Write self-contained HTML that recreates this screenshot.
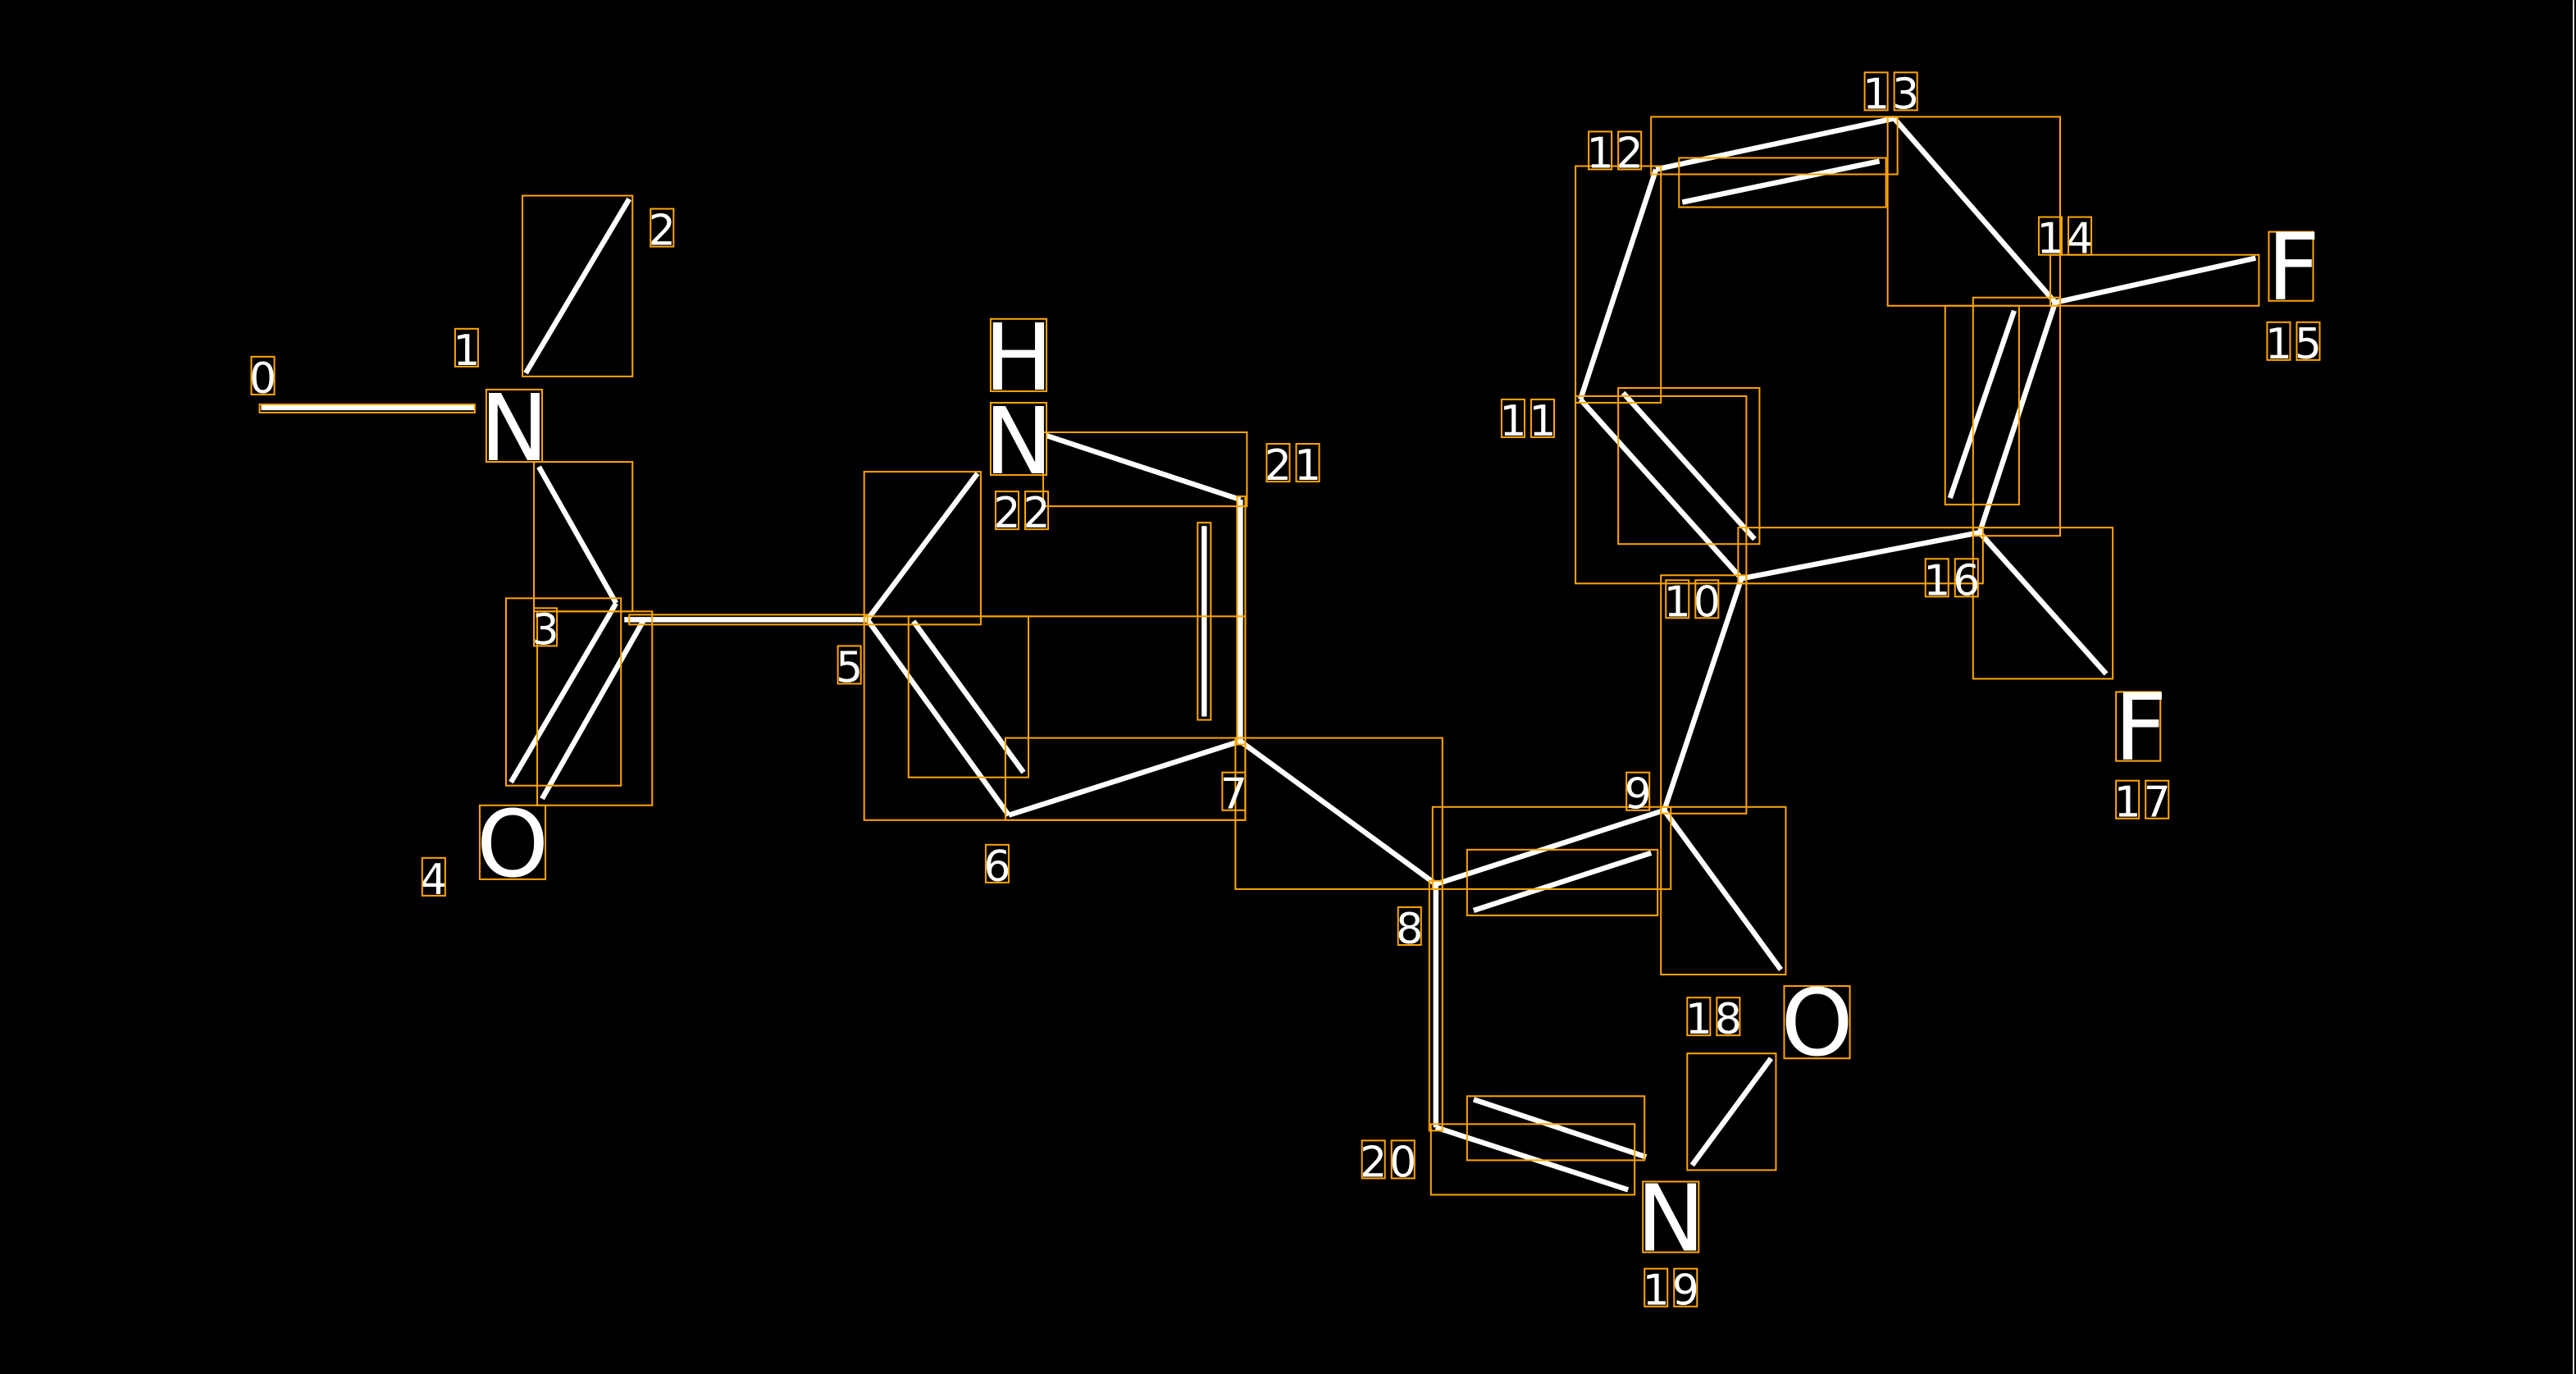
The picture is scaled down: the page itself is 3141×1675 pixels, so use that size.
<!DOCTYPE html>
<html><head><meta charset="utf-8"><style>
html,body{margin:0;padding:0;background:#000;}
svg{display:block;}
text{font-family:"DejaVu Sans","Liberation Sans",sans-serif;fill:#fff;}
</style></head><body>
<svg width="3141" height="1675" viewBox="0 0 1568 836" xmlns="http://www.w3.org/2000/svg">
<rect width="1568" height="836" fill="#000"/>
<line x1="1566.5" y1="0" x2="1566.5" y2="836" stroke="#ddd" stroke-width="1"/>
<g stroke="#fff" stroke-width="3.2" fill="none">
<line x1="159" y1="248" x2="289" y2="248"/>
<line x1="320" y1="227" x2="383" y2="121"/>
<line x1="328" y1="284" x2="375" y2="367"/>
<line x1="311" y1="476" x2="375" y2="367"/>
<line x1="330" y1="486" x2="392" y2="377"/>
<line x1="380" y1="377" x2="528" y2="377"/>
<line x1="528" y1="377" x2="595" y2="288"/>
<line x1="528" y1="377" x2="614" y2="496"/>
<line x1="556" y1="378" x2="623" y2="470"/>
<line x1="614" y1="496" x2="755" y2="451"/>
<line x1="755" y1="451" x2="755" y2="304"/>
<line x1="733" y1="320" x2="733" y2="436"/>
<line x1="755" y1="304" x2="637" y2="265"/>
<line x1="755" y1="451" x2="874" y2="538"/>
<line x1="874" y1="538" x2="1013" y2="493"/>
<line x1="897" y1="554" x2="1005" y2="519"/>
<line x1="1013" y1="493" x2="1084" y2="590"/>
<line x1="1030" y1="709" x2="1078" y2="644"/>
<line x1="991" y1="724" x2="874" y2="686"/>
<line x1="1002" y1="704" x2="897" y2="669"/>
<line x1="874" y1="538" x2="874" y2="686"/>
<line x1="1013" y1="493" x2="1060" y2="352"/>
<line x1="1060" y1="352" x2="962" y2="243"/>
<line x1="988" y1="239" x2="1068" y2="328"/>
<line x1="962" y1="243" x2="1008" y2="103"/>
<line x1="1008" y1="103" x2="1153" y2="72"/>
<line x1="1024" y1="123" x2="1144" y2="98"/>
<line x1="1153" y1="72" x2="1251" y2="184"/>
<line x1="1251" y1="184" x2="1373" y2="157"/>
<line x1="1251" y1="184" x2="1205" y2="324"/>
<line x1="1187" y1="303" x2="1226" y2="189"/>
<line x1="1205" y1="324" x2="1060" y2="352"/>
<line x1="1205" y1="324" x2="1282" y2="410"/>
</g>
<g stroke="#FFA500" stroke-width="1" fill="none">
<rect x="158" y="246" width="131" height="5"/>
<rect x="318" y="119" width="67" height="110"/>
<rect x="325" y="281" width="60" height="91"/>
<rect x="308" y="364" width="70" height="114"/>
<rect x="327" y="372" width="70" height="118"/>
<rect x="383" y="374" width="145" height="6"/>
<rect x="526" y="287" width="71" height="93"/>
<rect x="526" y="375" width="232" height="124"/>
<rect x="553" y="375" width="73" height="98"/>
<rect x="612" y="449" width="146" height="50"/>
<rect x="753" y="302" width="5" height="151"/>
<rect x="729" y="318" width="8" height="120"/>
<rect x="635" y="263" width="124" height="45"/>
<rect x="752" y="449" width="126" height="92"/>
<rect x="872" y="491" width="145" height="50"/>
<rect x="893" y="517" width="116" height="40"/>
<rect x="1011" y="491" width="76" height="102"/>
<rect x="1027" y="641" width="54" height="71"/>
<rect x="871" y="684" width="124" height="43"/>
<rect x="893" y="667" width="108" height="39"/>
<rect x="870" y="536" width="8" height="152"/>
<rect x="1011" y="350" width="52" height="145"/>
<rect x="959" y="241" width="104" height="114"/>
<rect x="985" y="236" width="86" height="95"/>
<rect x="959" y="101" width="52" height="144"/>
<rect x="1005" y="71" width="150" height="35"/>
<rect x="1022" y="96" width="126" height="30"/>
<rect x="1149" y="71" width="105" height="115"/>
<rect x="1248" y="155" width="127" height="31"/>
<rect x="1201" y="181" width="53" height="145"/>
<rect x="1184" y="186" width="45" height="121"/>
<rect x="1058" y="321" width="149" height="34"/>
<rect x="1201" y="321" width="85" height="92"/>
<rect x="296" y="237" width="34" height="44"/>
<rect x="292" y="490" width="40" height="45"/>
<rect x="603" y="194" width="34" height="44"/>
<rect x="603" y="245" width="34" height="44"/>
<rect x="1086" y="600" width="40" height="44"/>
<rect x="1000" y="719" width="34" height="43"/>
<rect x="1381" y="141" width="27" height="42"/>
<rect x="1288" y="421" width="27" height="42"/>
</g>
<g font-size="56" text-anchor="middle">
<text x="313" y="280">N</text>
<text x="312" y="533">O</text>
<text x="620" y="237">H</text>
<text x="620" y="288">N</text>
<text x="1106" y="642">O</text>
<text x="1017" y="761">N</text>
<text x="1396" y="182">F</text>
<text x="1303" y="462">F</text>
</g>
<g font-size="26" text-anchor="middle">
<text x="160" y="239">0</text>
<text x="284" y="222">1</text>
<text x="403" y="149">2</text>
<text x="332" y="392">3</text>
<text x="264" y="544">4</text>
<text x="517" y="415">5</text>
<text x="607" y="536">6</text>
<text x="751" y="492">7</text>
<text x="858" y="574">8</text>
<text x="997" y="492">9</text>
<text x="1021" y="375">1</text><text x="1039" y="375">0</text>
<text x="921" y="265">1</text><text x="939" y="265">1</text>
<text x="974" y="102">1</text><text x="992" y="102">2</text>
<text x="1142" y="66">1</text><text x="1160" y="66">3</text>
<text x="1248" y="154">1</text><text x="1266" y="154">4</text>
<text x="1387" y="218">1</text><text x="1405" y="218">5</text>
<text x="1179" y="362">1</text><text x="1197" y="362">6</text>
<text x="1295" y="497">1</text><text x="1313" y="497">7</text>
<text x="1034" y="629">1</text><text x="1052" y="629">8</text>
<text x="1008" y="794">1</text><text x="1026" y="794">9</text>
<text x="836" y="716">2</text><text x="854" y="716">0</text>
<text x="778" y="292">2</text><text x="796" y="292">1</text>
<text x="613" y="321">2</text><text x="631" y="321">2</text>
</g>
<g stroke="#FFA500" stroke-width="1" fill="none">
<rect x="153" y="217" width="14" height="23"/>
<rect x="277" y="200" width="14" height="23"/>
<rect x="396" y="127" width="14" height="23"/>
<rect x="325" y="370" width="14" height="23"/>
<rect x="257" y="522" width="14" height="23"/>
<rect x="510" y="393" width="14" height="23"/>
<rect x="600" y="514" width="14" height="23"/>
<rect x="744" y="470" width="14" height="23"/>
<rect x="851" y="552" width="14" height="23"/>
<rect x="990" y="470" width="14" height="23"/>
<rect x="1014" y="353" width="14" height="23"/><rect x="1032" y="353" width="14" height="23"/>
<rect x="914" y="243" width="14" height="23"/><rect x="932" y="243" width="14" height="23"/>
<rect x="967" y="80" width="14" height="23"/><rect x="985" y="80" width="14" height="23"/>
<rect x="1135" y="44" width="14" height="23"/><rect x="1153" y="44" width="14" height="23"/>
<rect x="1241" y="132" width="14" height="23"/><rect x="1259" y="132" width="14" height="23"/>
<rect x="1380" y="196" width="14" height="23"/><rect x="1398" y="196" width="14" height="23"/>
<rect x="1172" y="340" width="14" height="23"/><rect x="1190" y="340" width="14" height="23"/>
<rect x="1288" y="475" width="14" height="23"/><rect x="1306" y="475" width="14" height="23"/>
<rect x="1027" y="607" width="14" height="23"/><rect x="1045" y="607" width="14" height="23"/>
<rect x="1001" y="772" width="14" height="23"/><rect x="1019" y="772" width="14" height="23"/>
<rect x="829" y="694" width="14" height="23"/><rect x="847" y="694" width="14" height="23"/>
<rect x="771" y="270" width="14" height="23"/><rect x="789" y="270" width="14" height="23"/>
<rect x="606" y="299" width="14" height="23"/><rect x="624" y="299" width="14" height="23"/>
</g>
</svg>
</body></html>
